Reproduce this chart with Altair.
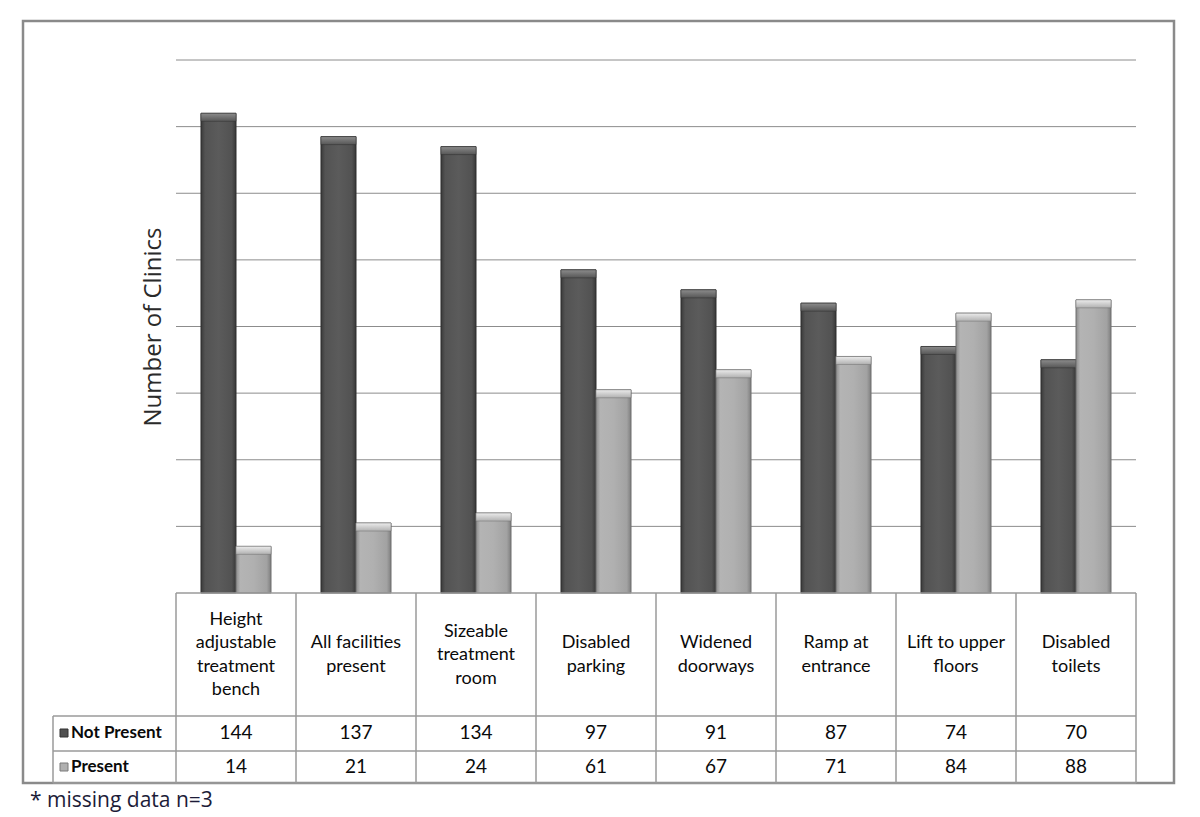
import altair as alt
import pandas as pd

categories = [
    "Height adjustable treatment bench",
    "All facilities present",
    "Sizeable treatment room",
    "Disabled parking",
    "Widened doorways",
    "Ramp at entrance",
    "Lift to upper floors",
    "Disabled toilets",
]
header_labels = [
    "Height\nadjustable\ntreatment\nbench",
    "All facilities\npresent",
    "Sizeable\ntreatment\nroom",
    "Disabled\nparking",
    "Widened\ndoorways",
    "Ramp at\nentrance",
    "Lift to upper\nfloors",
    "Disabled\ntoilets",
]
series = ["Not Present", "Present"]
not_present = [144, 137, 134, 97, 91, 87, 74, 70]
present = [14, 21, 24, 61, 67, 71, 84, 88]
grid_values = [20, 40, 60, 80, 100, 120, 140, 160]
y_title = "Number of Clinics"
footnote = "* missing data n=3"

rows = []
for c, a, b in zip(categories, not_present, present):
    rows.append({"category": c, "series": series[0], "value": a})
    rows.append({"category": c, "series": series[1], "value": b})
df = pd.DataFrame(rows)
hdr = pd.DataFrame({
    "category": categories,
    "label": header_labels,
    "nlines": [l.count("\n") + 1 for l in header_labels],
})
grid_df = pd.DataFrame({"v": grid_values})

xs = alt.Scale(domain=categories, range=[168, 1128], paddingInner=0, paddingOuter=0)
ys = alt.Scale(domain=[0, 160], range=[585, 52], nice=False, zero=True)
xo = alt.Scale(domain=series, paddingOuter=0.714, paddingInner=0)

FONT = "Lato"
TXT = "#0a0a0a"
LINE = "#9a9a9a"


def grad_h(stops):
    return alt.Gradient(
        gradient="linear", x1=0, x2=1, y1=0, y2=0,
        stops=[alt.GradientStop(offset=o, color=c) for o, c in stops],
    )


def grad_v(stops):
    return alt.Gradient(
        gradient="linear", x1=0, x2=0, y1=0, y2=1,
        stops=[alt.GradientStop(offset=o, color=c) for o, c in stops],
    )


bar_styles = {
    "Not Present": dict(
        fill=grad_h([(0, "#3a3a3a"), (0.12, "#535353"), (0.5, "#5b5b5b"), (0.88, "#525252"), (1, "#383838")]),
        stroke="#2e2e2e",
        bevel=grad_v([(0, "#8c8c8c"), (1, "#565656")]),
    ),
    "Present": dict(
        fill=grad_h([(0, "#8c8c8c"), (0.12, "#b4b4b4"), (0.5, "#b0b0b0"), (0.88, "#a2a2a2"), (1, "#7e7e7e")]),
        stroke="#6e6e6e",
        bevel=grad_v([(0, "#ececec"), (1, "#b0b0b0")]),
    ),
}

layers = []

# frame
one = pd.DataFrame({"d": [0]})
layers.append(
    alt.Chart(one).mark_rect(fill="white", stroke="#8a8a8a", strokeWidth=2.5).encode(
        x=alt.value(15), x2=alt.value(1166), y=alt.value(13), y2=alt.value(775)
    )
)

# gridlines
layers.append(
    alt.Chart(grid_df).mark_rule(color="#8c8c8c", strokeWidth=1).encode(
        y=alt.Y("v:Q", scale=ys, axis=None), x=alt.value(168), x2=alt.value(1128)
    )
)

# bars
for s in series:
    st = bar_styles[s]
    base = alt.Chart(df).transform_filter(alt.datum.series == s)
    layers.append(
        base.mark_bar(fill=st["fill"], stroke=st["stroke"], strokeWidth=1).encode(
            x=alt.X("category:N", scale=xs, axis=None),
            xOffset=alt.XOffset("series:N", scale=xo),
            y=alt.Y("value:Q", scale=ys, axis=None),
        )
    )
    layers.append(
        base.transform_calculate(top2="datum.value - 2.4").mark_bar(
            fill=st["bevel"], stroke=st["stroke"], strokeWidth=0.5
        ).encode(
            x=alt.X("category:N", scale=xs, axis=None),
            xOffset=alt.XOffset("series:N", scale=xo),
            y=alt.Y("value:Q", scale=ys, axis=None),
            y2="top2:Q",
        )
    )

# table lines
def hline(y, x1, x2):
    return alt.Chart(one).mark_rule(color=LINE, strokeWidth=1.5).encode(
        x=alt.value(x1), x2=alt.value(x2), y=alt.value(y)
    )


def vline(x, y1, y2):
    return alt.Chart(one).mark_rule(color=LINE, strokeWidth=1.5).encode(
        x=alt.value(x), y=alt.value(y1), y2=alt.value(y2)
    )


layers.append(hline(585, 168, 1128))
layers.append(hline(708, 45, 1128))
layers.append(hline(743, 45, 1128))
layers.append(hline(775, 45, 1128))
layers.append(vline(45, 708, 775))
layers.append(vline(1128, 585, 775))
layers.append(
    alt.Chart(hdr).mark_rule(color=LINE, strokeWidth=1.5).encode(
        x=alt.X("category:N", scale=xs, axis=None, bandPosition=0),
        y=alt.value(585), y2=alt.value(775),
    )
)

# header labels, vertically centred in the header cell
LH = 23.5
HEADER_CENTER = 647
for n in sorted(set(hdr["nlines"])):
    layers.append(
        alt.Chart(hdr).transform_filter(alt.datum.nlines == int(n)).mark_text(
            lineBreak="\n", lineHeight=LH, fontSize=18, font=FONT, color=TXT,
            align="center", baseline="middle",
        ).encode(
            x=alt.X("category:N", scale=xs, axis=None),
            y=alt.value(HEADER_CENTER - (n - 1) * LH / 2),
            text="label:N",
        )
    )

row_y = {"Not Present": 725, "Present": 759}
swatch = {"Not Present": "#505050", "Present": "#b0b0b0"}
sw_stroke = {"Not Present": "#333333", "Present": "#7a7a7a"}
ser_df = pd.DataFrame({"series": series})
for s in series:
    layers.append(
        alt.Chart(df).transform_filter(alt.datum.series == s).mark_text(
            fontSize=19, font=FONT, color=TXT, align="center", baseline="middle"
        ).encode(
            x=alt.X("category:N", scale=xs, axis=None),
            y=alt.value(row_y[s]),
            text="value:Q",
        )
    )
    sd = alt.Chart(ser_df).transform_filter(alt.datum.series == s)
    layers.append(
        sd.mark_square(size=64, fill=swatch[s], stroke=sw_stroke[s], strokeWidth=1, opacity=1).encode(
            x=alt.value(56), y=alt.value(row_y[s])
        )
    )
    layers.append(
        sd.mark_text(fontSize=17, font=FONT, fontWeight="bold", color=TXT, align="left", baseline="middle").encode(
            x=alt.value(63), y=alt.value(row_y[s]), text="series:N"
        )
    )

# y title
layers.append(
    alt.Chart(pd.DataFrame({"t": [y_title]})).mark_text(
        angle=270, fontSize=24, font="Open Sans", color="#2a2a2a", align="center", baseline="middle"
    ).encode(x=alt.value(146), y=alt.value(319), text="t:N")
)

# footnote
layers.append(
    alt.Chart(pd.DataFrame({"t": [footnote]})).mark_text(
        fontSize=21, font="Open Sans", color="#1c1c38", align="left", baseline="middle"
    ).encode(x=alt.value(22), y=alt.value(793), text="t:N")
)

chart = alt.layer(*layers).properties(
    width=1184, height=809, padding=0, autosize=alt.AutoSizeParams(type="none")
).configure_view(stroke=None)

chart.save("out.html", embed_options={"renderer": "svg", "actions": False})
